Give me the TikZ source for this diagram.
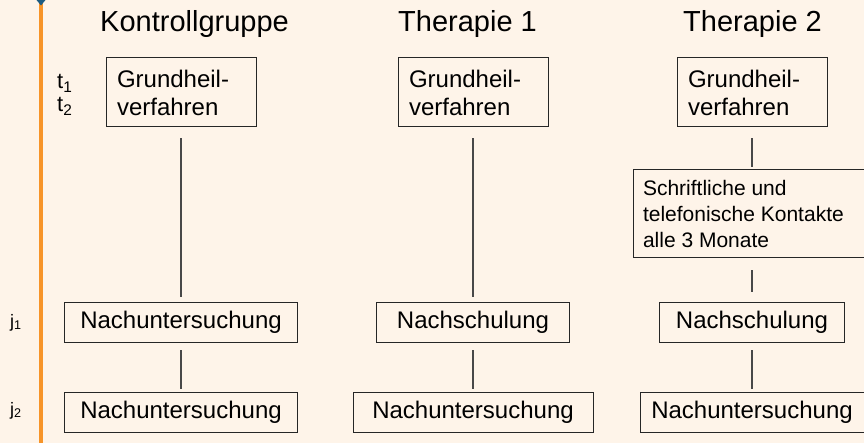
\documentclass[tikz,border=0pt]{standalone}
\usepackage{fontspec}
\setmainfont{Liberation Sans}
\definecolor{paper}{RGB}{254,244,233}
\definecolor{axisorange}{RGB}{247,148,40}
\definecolor{markblue}{RGB}{28,92,130}
\definecolor{edge}{RGB}{38,38,38}
\definecolor{wire}{RGB}{72,72,72}
\def\colK{181}
\def\colA{473}
\def\colB{752}

\begin{document}
\begin{tikzpicture}[x=1pt, y=-1pt,
		box/.style={draw=edge, line width=1pt, fill=paper, inner sep=0pt, minimum height=40pt, font=\fontsize{24}{28}\selectfont},
		textbox/.style={box, align=flush left, inner xsep=11pt, inner ysep=0pt, text width=128pt, minimum height=69pt},
		link/.style={draw=wire, line width=1.1pt},
		head/.style={anchor=base west, inner sep=0pt, font=\fontsize{29}{34}\selectfont},
		tick/.style={anchor=base west, inner sep=0pt, font=\fontsize{18}{20}\selectfont}]
		%%%%% START %%%%%
		
		\fill[paper] (0, 0) rectangle (864, 443);
		\useasboundingbox (0, 0) rectangle (864, 443);
		
		\draw[axisorange, line width=4pt] (41, 0) -- (41, 443);
		\fill[markblue] (36.5, 0) -- (41, 5.5) -- (45.5, 0) -- cycle;
		
		\node[head] (headK) at (100, 32) {Kontrollgruppe};
		\node[head] (headA) at (398, 32) {Therapie 1};
		\node[head] (headB) at (683, 32) {Therapie 2};
		
		\node[anchor=base west, inner sep=0pt, align=flush left, font=\fontsize{22}{23}\selectfont] (tlab) at (57, 112) {t\textsubscript{1}\\t\textsubscript{2}};
		\node[tick] (jone) at (10, 327) {j\textsubscript{1}};
		\node[tick] (jtwo) at (10, 415) {j\textsubscript{2}};
		
		\node[textbox] (gK) at (\colK, 92.5) {Grundheil-\\verfahren};
		\node[textbox] (gA) at (\colA, 92.5) {Grundheil-\\verfahren};
		\node[textbox] (gB) at (\colB, 92.5) {Grundheil-\\verfahren};
		
		\node[box, align=flush left, inner xsep=10pt, text width=218pt, minimum height=88pt, font=\fontsize{21}{26}\selectfont] (kontakt) at (\colB, 214) {Schriftliche und\\telefonische Kontakte\\alle 3 Monate};
		
		\node[box, minimum width=233pt] (nK) at (\colK, 322.5) {Nachuntersuchung};
		\node[box, minimum width=193pt] (sA) at (\colA, 322.5) {Nachschulung};
		\node[box, minimum width=185pt] (sB) at (\colB, 322.5) {Nachschulung};
		
		\node[box, minimum width=233pt] (uK) at (\colK, 412) {Nachuntersuchung};
		\node[box, minimum width=240pt] (uA) at (\colA, 412) {Nachuntersuchung};
		\node[box, minimum width=224pt] (uB) at (\colB, 412) {Nachuntersuchung};
		
		\draw[link, shorten <=11pt, shorten >=4.5pt] (gK) -- (nK);
		\draw[link, shorten <=7pt, shorten >=3pt] (nK) -- (uK);
		
		\draw[link, shorten <=11pt, shorten >=4.5pt] (gA) -- (sA);
		\draw[link, shorten <=7pt, shorten >=3pt] (sA) -- (uA);
		
		\draw[link, shorten <=11pt, shorten >=2pt] (gB) -- (kontakt);
		\draw[link, shorten <=12pt, shorten >=9.5pt] (kontakt) -- (sB);
		\draw[link, shorten <=7pt, shorten >=3pt] (sB) -- (uB);
		
		%%%%% END %%%%%
\end{tikzpicture}
\end{document}
